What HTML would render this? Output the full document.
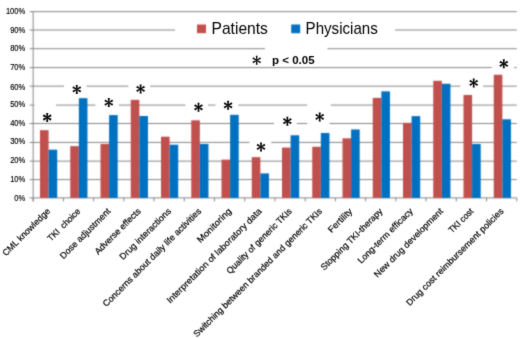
<!DOCTYPE html>
<html><head><meta charset="utf-8"><style>
html,body{margin:0;padding:0;background:#fff;}
body{width:520px;height:338px;overflow:hidden;}
svg{display:block;will-change:transform;}
.t{font-family:"Liberation Sans",sans-serif;fill:#000;}
.s{stroke:#000;stroke-width:0.15px;}
.s2{stroke:#000;stroke-width:0.2px;}
</style></head><body>
<svg width="520" height="338" viewBox="0 0 520 338">
<defs><filter id="bl" x="0" y="0" width="520" height="338" filterUnits="userSpaceOnUse" color-interpolation-filters="sRGB"><feConvolveMatrix order="3" kernelMatrix="0.0361 0.1178 0.0361 0.1178 0.3844 0.1178 0.0361 0.1178 0.0361" divisor="1" edgeMode="duplicate" preserveAlpha="true"/></filter><filter id="bt" x="0" y="0" width="520" height="338" filterUnits="userSpaceOnUse" color-interpolation-filters="sRGB"><feConvolveMatrix order="3" kernelMatrix="0.0121 0.0858 0.0121 0.0858 0.6084 0.0858 0.0121 0.0858 0.0121" divisor="1" edgeMode="none" preserveAlpha="false"/></filter></defs>
<g filter="url(#bl)">
<rect width="520" height="338" fill="#fff"/>
<line x1="29.65" y1="11.65" x2="516.75" y2="11.65" stroke="#878787" stroke-width="1"/>
<line x1="29.65" y1="30.00" x2="516.75" y2="30.00" stroke="#878787" stroke-width="1"/>
<line x1="29.65" y1="48.70" x2="516.75" y2="48.70" stroke="#878787" stroke-width="1"/>
<line x1="29.65" y1="67.60" x2="516.75" y2="67.60" stroke="#878787" stroke-width="1"/>
<line x1="29.65" y1="86.15" x2="516.75" y2="86.15" stroke="#878787" stroke-width="1"/>
<line x1="29.65" y1="105.10" x2="516.75" y2="105.10" stroke="#878787" stroke-width="1"/>
<line x1="29.65" y1="123.50" x2="516.75" y2="123.50" stroke="#878787" stroke-width="1"/>
<line x1="29.65" y1="142.40" x2="516.75" y2="142.40" stroke="#878787" stroke-width="1"/>
<line x1="29.65" y1="161.15" x2="516.75" y2="161.15" stroke="#878787" stroke-width="1"/>
<line x1="29.65" y1="179.60" x2="516.75" y2="179.60" stroke="#878787" stroke-width="1"/>
<line x1="29.65" y1="197.90" x2="516.75" y2="197.90" stroke="#878787" stroke-width="1"/>
<rect x="64.0" y="84.15" width="22.50" height="4.00" fill="#fff"/>
<rect x="128.3" y="84.15" width="21.90" height="4.00" fill="#fff"/>
<rect x="460.4" y="84.15" width="22.70" height="4.00" fill="#fff"/>
<rect x="34.3" y="103.10" width="21.70" height="4.00" fill="#fff"/>
<rect x="95.4" y="103.10" width="23.40" height="4.00" fill="#fff"/>
<rect x="185.4" y="103.10" width="22.60" height="4.00" fill="#fff"/>
<rect x="215.5" y="103.10" width="22.80" height="4.00" fill="#fff"/>
<rect x="307.2" y="103.10" width="23.60" height="4.00" fill="#fff"/>
<rect x="274" y="121.50" width="22.70" height="4.00" fill="#fff"/>
<rect x="307.2" y="121.50" width="22.30" height="4.00" fill="#fff"/>
<rect x="249.5" y="140.40" width="21.70" height="4.00" fill="#fff"/>
<rect x="491.7" y="65.60" width="22.40" height="4.00" fill="#fff"/>
<rect x="265" y="46.70" width="62.50" height="4.00" fill="#fff"/>
<rect x="175" y="28.00" width="220.00" height="4.00" fill="#fff"/>
<line x1="33.15" y1="11.65" x2="33.15" y2="201.4" stroke="#878787" stroke-width="1"/>
<line x1="33.15" y1="197.9" x2="33.15" y2="201.4" stroke="#878787" stroke-width="1"/>
<line x1="63.38" y1="197.9" x2="63.38" y2="201.4" stroke="#878787" stroke-width="1"/>
<line x1="93.60" y1="197.9" x2="93.60" y2="201.4" stroke="#878787" stroke-width="1"/>
<line x1="123.83" y1="197.9" x2="123.83" y2="201.4" stroke="#878787" stroke-width="1"/>
<line x1="154.05" y1="197.9" x2="154.05" y2="201.4" stroke="#878787" stroke-width="1"/>
<line x1="184.28" y1="197.9" x2="184.28" y2="201.4" stroke="#878787" stroke-width="1"/>
<line x1="214.50" y1="197.9" x2="214.50" y2="201.4" stroke="#878787" stroke-width="1"/>
<line x1="244.73" y1="197.9" x2="244.73" y2="201.4" stroke="#878787" stroke-width="1"/>
<line x1="274.95" y1="197.9" x2="274.95" y2="201.4" stroke="#878787" stroke-width="1"/>
<line x1="305.18" y1="197.9" x2="305.18" y2="201.4" stroke="#878787" stroke-width="1"/>
<line x1="335.40" y1="197.9" x2="335.40" y2="201.4" stroke="#878787" stroke-width="1"/>
<line x1="365.62" y1="197.9" x2="365.62" y2="201.4" stroke="#878787" stroke-width="1"/>
<line x1="395.85" y1="197.9" x2="395.85" y2="201.4" stroke="#878787" stroke-width="1"/>
<line x1="426.07" y1="197.9" x2="426.07" y2="201.4" stroke="#878787" stroke-width="1"/>
<line x1="456.30" y1="197.9" x2="456.30" y2="201.4" stroke="#878787" stroke-width="1"/>
<line x1="486.52" y1="197.9" x2="486.52" y2="201.4" stroke="#878787" stroke-width="1"/>
<line x1="516.75" y1="197.9" x2="516.75" y2="201.4" stroke="#878787" stroke-width="1"/>
<rect x="40.00" y="130.15" width="8.6" height="67.75" fill="#C0504D"/>
<rect x="48.60" y="149.68" width="8.6" height="48.22" fill="#0070C0"/>
<rect x="70.25" y="146.15" width="8.6" height="51.75" fill="#C0504D"/>
<rect x="78.85" y="98.16" width="8.6" height="99.74" fill="#0070C0"/>
<rect x="100.50" y="143.92" width="8.6" height="53.98" fill="#C0504D"/>
<rect x="109.10" y="115.09" width="8.6" height="82.81" fill="#0070C0"/>
<rect x="130.75" y="99.84" width="8.6" height="98.06" fill="#C0504D"/>
<rect x="139.35" y="116.02" width="8.6" height="81.88" fill="#0070C0"/>
<rect x="161.00" y="136.69" width="8.6" height="61.21" fill="#C0504D"/>
<rect x="169.60" y="144.69" width="8.6" height="53.21" fill="#0070C0"/>
<rect x="191.25" y="120.32" width="8.6" height="77.58" fill="#C0504D"/>
<rect x="199.85" y="143.95" width="8.6" height="53.95" fill="#0070C0"/>
<rect x="221.50" y="159.64" width="8.6" height="38.26" fill="#C0504D"/>
<rect x="230.10" y="114.82" width="8.6" height="83.08" fill="#0070C0"/>
<rect x="251.75" y="157.14" width="8.6" height="40.76" fill="#C0504D"/>
<rect x="260.35" y="173.42" width="8.6" height="24.48" fill="#0070C0"/>
<rect x="282.00" y="147.55" width="8.6" height="50.35" fill="#C0504D"/>
<rect x="290.60" y="135.28" width="8.6" height="62.62" fill="#0070C0"/>
<rect x="312.25" y="146.76" width="8.6" height="51.14" fill="#C0504D"/>
<rect x="320.85" y="132.99" width="8.6" height="64.91" fill="#0070C0"/>
<rect x="342.50" y="138.31" width="8.6" height="59.59" fill="#C0504D"/>
<rect x="351.10" y="129.47" width="8.6" height="68.43" fill="#0070C0"/>
<rect x="372.75" y="97.88" width="8.6" height="100.02" fill="#C0504D"/>
<rect x="381.35" y="91.39" width="8.6" height="106.51" fill="#0070C0"/>
<rect x="403.00" y="122.83" width="8.6" height="75.07" fill="#C0504D"/>
<rect x="411.60" y="116.13" width="8.6" height="81.77" fill="#0070C0"/>
<rect x="433.25" y="80.79" width="8.6" height="117.11" fill="#C0504D"/>
<rect x="441.85" y="83.77" width="8.6" height="114.13" fill="#0070C0"/>
<rect x="463.50" y="94.93" width="8.6" height="102.97" fill="#C0504D"/>
<rect x="472.10" y="144.03" width="8.6" height="53.87" fill="#0070C0"/>
<rect x="493.75" y="74.73" width="8.6" height="123.17" fill="#C0504D"/>
<rect x="502.35" y="119.29" width="8.6" height="78.61" fill="#0070C0"/>
<rect x="197" y="24.5" width="9" height="8.7" fill="#C0504D"/>
<rect x="291.2" y="24.5" width="9" height="8.7" fill="#0070C0"/>
</g><g filter="url(#bt)">
<text transform="translate(25.3,13.95) scale(0.915,1)" text-anchor="end" font-size="8.3" class="t s">100%</text>
<text transform="translate(25.3,33.10) scale(0.915,1)" text-anchor="end" font-size="8.3" class="t s">90%</text>
<text transform="translate(25.3,51.40) scale(0.915,1)" text-anchor="end" font-size="8.3" class="t s">80%</text>
<text transform="translate(25.3,69.90) scale(0.915,1)" text-anchor="end" font-size="8.3" class="t s">70%</text>
<text transform="translate(25.3,89.60) scale(0.915,1)" text-anchor="end" font-size="8.3" class="t s">60%</text>
<text transform="translate(25.3,107.05) scale(0.915,1)" text-anchor="end" font-size="8.3" class="t s">50%</text>
<text transform="translate(25.3,125.50) scale(0.915,1)" text-anchor="end" font-size="8.3" class="t s">40%</text>
<text transform="translate(25.3,144.40) scale(0.915,1)" text-anchor="end" font-size="8.3" class="t s">30%</text>
<text transform="translate(25.3,163.45) scale(0.915,1)" text-anchor="end" font-size="8.3" class="t s">20%</text>
<text transform="translate(25.3,181.60) scale(0.915,1)" text-anchor="end" font-size="8.3" class="t s">10%</text>
<text transform="translate(25.3,201.00) scale(0.915,1)" text-anchor="end" font-size="8.3" class="t s">0%</text>
<text transform="translate(48.56,209.70) rotate(-45)" x="0" y="3" text-anchor="end" font-size="8.9" textLength="63.16" lengthAdjust="spacingAndGlyphs" class="t s2" xml:space="preserve">CML knowledge</text>
<text transform="translate(78.79,209.70) rotate(-45)" x="0" y="3" text-anchor="end" font-size="8.9" textLength="42.28" lengthAdjust="spacingAndGlyphs" class="t s2" xml:space="preserve">TKI  choice</text>
<text transform="translate(109.01,209.70) rotate(-45)" x="0" y="3" text-anchor="end" font-size="8.9" textLength="67.36" lengthAdjust="spacingAndGlyphs" class="t s2" xml:space="preserve">Dose adjustment</text>
<text transform="translate(139.24,209.70) rotate(-45)" x="0" y="3" text-anchor="end" font-size="8.9" textLength="61.14" lengthAdjust="spacingAndGlyphs" class="t s2" xml:space="preserve">Adverse effects</text>
<text transform="translate(169.46,209.70) rotate(-45)" x="0" y="3" text-anchor="end" font-size="8.9" textLength="68.56" lengthAdjust="spacingAndGlyphs" class="t s2" xml:space="preserve">Drug interactions</text>
<text transform="translate(199.69,209.70) rotate(-45)" x="0" y="3" text-anchor="end" font-size="8.9" textLength="135.00" lengthAdjust="spacingAndGlyphs" class="t s2" xml:space="preserve">Concerns about daily life activities</text>
<text transform="translate(229.91,209.70) rotate(-45)" x="0" y="3" text-anchor="end" font-size="8.9" textLength="44.59" lengthAdjust="spacingAndGlyphs" class="t s2" xml:space="preserve">Monitoring</text>
<text transform="translate(260.14,209.70) rotate(-45)" x="0" y="3" text-anchor="end" font-size="8.9" textLength="130.09" lengthAdjust="spacingAndGlyphs" class="t s2" xml:space="preserve">Interpretation of laboratory data</text>
<text transform="translate(290.36,209.70) rotate(-45)" x="0" y="3" text-anchor="end" font-size="8.9" textLength="88.50" lengthAdjust="spacingAndGlyphs" class="t s2" xml:space="preserve">Quality of generic TKIs</text>
<text transform="translate(320.59,209.70) rotate(-45)" x="0" y="3" text-anchor="end" font-size="8.9" textLength="177.79" lengthAdjust="spacingAndGlyphs" class="t s2" xml:space="preserve">Switching between branded and generic TKIs</text>
<text transform="translate(350.81,209.70) rotate(-45)" x="0" y="3" text-anchor="end" font-size="8.9" textLength="30.39" lengthAdjust="spacingAndGlyphs" class="t s2" xml:space="preserve">Fertility</text>
<text transform="translate(381.04,209.70) rotate(-45)" x="0" y="3" text-anchor="end" font-size="8.9" textLength="83.39" lengthAdjust="spacingAndGlyphs" class="t s2" xml:space="preserve">Stopping TKI-therapy</text>
<text transform="translate(411.26,209.70) rotate(-45)" x="0" y="3" text-anchor="end" font-size="8.9" textLength="73.82" lengthAdjust="spacingAndGlyphs" class="t s2" xml:space="preserve">Long-term efficacy</text>
<text transform="translate(441.49,209.70) rotate(-45)" x="0" y="3" text-anchor="end" font-size="8.9" textLength="93.52" lengthAdjust="spacingAndGlyphs" class="t s2" xml:space="preserve">New drug development</text>
<text transform="translate(471.71,209.70) rotate(-45)" x="0" y="3" text-anchor="end" font-size="8.9" textLength="30.82" lengthAdjust="spacingAndGlyphs" class="t s2" xml:space="preserve">TKI cost</text>
<text transform="translate(501.94,209.70) rotate(-45)" x="0" y="3" text-anchor="end" font-size="8.9" textLength="133.44" lengthAdjust="spacingAndGlyphs" class="t s2" xml:space="preserve">Drug cost reimbursement policies</text>
<text transform="translate(211.5,33.7) scale(0.977,1)" font-size="16" class="t">Patients</text>
<text transform="translate(305.6,33.7) scale(0.944,1)" font-size="16" class="t">Physicians</text>
<text transform="translate(272.0,63.7) scale(1.05,1)" font-size="11" font-weight="bold" class="t" xml:space="preserve">p &lt; 0.05</text>
<polygon points="47.72,117.50 48.22,122.00 46.18,122.00 46.68,117.50" fill="#000"/><polygon points="47.46,117.05 51.61,118.87 50.59,120.63 46.94,117.95" fill="#000"/><polygon points="47.46,117.95 43.81,120.63 42.79,118.87 46.94,117.05" fill="#000"/><polygon points="46.94,117.95 42.79,116.13 43.81,114.37 47.46,117.05" fill="#000"/><polygon points="46.68,117.50 46.18,113.00 48.22,113.00 47.72,117.50" fill="#000"/><polygon points="46.94,117.05 50.59,114.37 51.61,116.13 47.46,117.95" fill="#000"/>
<polygon points="77.32,89.40 77.82,93.90 75.78,93.90 76.28,89.40" fill="#000"/><polygon points="77.06,88.95 81.21,90.77 80.19,92.53 76.54,89.85" fill="#000"/><polygon points="77.06,89.85 73.41,92.53 72.39,90.77 76.54,88.95" fill="#000"/><polygon points="76.54,89.85 72.39,88.03 73.41,86.27 77.06,88.95" fill="#000"/><polygon points="76.28,89.40 75.78,84.90 77.82,84.90 77.32,89.40" fill="#000"/><polygon points="76.54,88.95 80.19,86.27 81.21,88.03 77.06,89.85" fill="#000"/>
<polygon points="109.32,102.60 109.82,107.10 107.78,107.10 108.28,102.60" fill="#000"/><polygon points="109.06,102.15 113.21,103.97 112.19,105.73 108.54,103.05" fill="#000"/><polygon points="109.06,103.05 105.41,105.73 104.39,103.97 108.54,102.15" fill="#000"/><polygon points="108.54,103.05 104.39,101.23 105.41,99.47 109.06,102.15" fill="#000"/><polygon points="108.28,102.60 107.78,98.10 109.82,98.10 109.32,102.60" fill="#000"/><polygon points="108.54,102.15 112.19,99.47 113.21,101.23 109.06,103.05" fill="#000"/>
<polygon points="141.12,88.90 141.62,93.40 139.58,93.40 140.08,88.90" fill="#000"/><polygon points="140.86,88.45 145.01,90.27 143.99,92.03 140.34,89.35" fill="#000"/><polygon points="140.86,89.35 137.21,92.03 136.19,90.27 140.34,88.45" fill="#000"/><polygon points="140.34,89.35 136.19,87.53 137.21,85.77 140.86,88.45" fill="#000"/><polygon points="140.08,88.90 139.58,84.40 141.62,84.40 141.12,88.90" fill="#000"/><polygon points="140.34,88.45 143.99,85.77 145.01,87.53 140.86,89.35" fill="#000"/>
<polygon points="199.02,107.30 199.52,111.80 197.48,111.80 197.98,107.30" fill="#000"/><polygon points="198.76,106.85 202.91,108.67 201.89,110.43 198.24,107.75" fill="#000"/><polygon points="198.76,107.75 195.11,110.43 194.09,108.67 198.24,106.85" fill="#000"/><polygon points="198.24,107.75 194.09,105.93 195.11,104.17 198.76,106.85" fill="#000"/><polygon points="197.98,107.30 197.48,102.80 199.52,102.80 199.02,107.30" fill="#000"/><polygon points="198.24,106.85 201.89,104.17 202.91,105.93 198.76,107.75" fill="#000"/>
<polygon points="228.62,105.30 229.12,109.80 227.08,109.80 227.58,105.30" fill="#000"/><polygon points="228.36,104.85 232.51,106.67 231.49,108.43 227.84,105.75" fill="#000"/><polygon points="228.36,105.75 224.71,108.43 223.69,106.67 227.84,104.85" fill="#000"/><polygon points="227.84,105.75 223.69,103.93 224.71,102.17 228.36,104.85" fill="#000"/><polygon points="227.58,105.30 227.08,100.80 229.12,100.80 228.62,105.30" fill="#000"/><polygon points="227.84,104.85 231.49,102.17 232.51,103.93 228.36,105.75" fill="#000"/>
<polygon points="261.52,146.90 262.02,151.40 259.98,151.40 260.48,146.90" fill="#000"/><polygon points="261.26,146.45 265.41,148.27 264.39,150.03 260.74,147.35" fill="#000"/><polygon points="261.26,147.35 257.61,150.03 256.59,148.27 260.74,146.45" fill="#000"/><polygon points="260.74,147.35 256.59,145.53 257.61,143.77 261.26,146.45" fill="#000"/><polygon points="260.48,146.90 259.98,142.40 262.02,142.40 261.52,146.90" fill="#000"/><polygon points="260.74,146.45 264.39,143.77 265.41,145.53 261.26,147.35" fill="#000"/>
<polygon points="287.87,121.20 288.37,125.70 286.33,125.70 286.83,121.20" fill="#000"/><polygon points="287.61,120.75 291.76,122.57 290.74,124.33 287.09,121.65" fill="#000"/><polygon points="287.61,121.65 283.96,124.33 282.94,122.57 287.09,120.75" fill="#000"/><polygon points="287.09,121.65 282.94,119.83 283.96,118.07 287.61,120.75" fill="#000"/><polygon points="286.83,121.20 286.33,116.70 288.37,116.70 287.87,121.20" fill="#000"/><polygon points="287.09,120.75 290.74,118.07 291.76,119.83 287.61,121.65" fill="#000"/>
<polygon points="320.22,116.90 320.72,121.40 318.68,121.40 319.18,116.90" fill="#000"/><polygon points="319.96,116.45 324.11,118.27 323.09,120.03 319.44,117.35" fill="#000"/><polygon points="319.96,117.35 316.31,120.03 315.29,118.27 319.44,116.45" fill="#000"/><polygon points="319.44,117.35 315.29,115.53 316.31,113.77 319.96,116.45" fill="#000"/><polygon points="319.18,116.90 318.68,112.40 320.72,112.40 320.22,116.90" fill="#000"/><polygon points="319.44,116.45 323.09,113.77 324.11,115.53 319.96,117.35" fill="#000"/>
<polygon points="474.22,82.90 474.72,87.40 472.68,87.40 473.18,82.90" fill="#000"/><polygon points="473.96,82.45 478.11,84.27 477.09,86.03 473.44,83.35" fill="#000"/><polygon points="473.96,83.35 470.31,86.03 469.29,84.27 473.44,82.45" fill="#000"/><polygon points="473.44,83.35 469.29,81.53 470.31,79.77 473.96,82.45" fill="#000"/><polygon points="473.18,82.90 472.68,78.40 474.72,78.40 474.22,82.90" fill="#000"/><polygon points="473.44,82.45 477.09,79.77 478.11,81.53 473.96,83.35" fill="#000"/>
<polygon points="504.32,63.80 504.82,68.30 502.78,68.30 503.28,63.80" fill="#000"/><polygon points="504.06,63.35 508.21,65.17 507.19,66.93 503.54,64.25" fill="#000"/><polygon points="504.06,64.25 500.41,66.93 499.39,65.17 503.54,63.35" fill="#000"/><polygon points="503.54,64.25 499.39,62.43 500.41,60.67 504.06,63.35" fill="#000"/><polygon points="503.28,63.80 502.78,59.30 504.82,59.30 504.32,63.80" fill="#000"/><polygon points="503.54,63.35 507.19,60.67 508.21,62.43 504.06,64.25" fill="#000"/>
<polygon points="257.15,60.30 257.55,64.80 255.85,64.80 256.25,60.30" fill="#000"/><polygon points="256.93,59.91 261.02,61.81 260.17,63.29 256.47,60.69" fill="#000"/><polygon points="256.93,60.69 253.23,63.29 252.38,61.81 256.47,59.91" fill="#000"/><polygon points="256.47,60.69 252.38,58.79 253.23,57.31 256.93,59.91" fill="#000"/><polygon points="256.25,60.30 255.85,55.80 257.55,55.80 257.15,60.30" fill="#000"/><polygon points="256.47,59.91 260.17,57.31 261.02,58.79 256.93,60.69" fill="#000"/>
</g></svg>
</body></html>
